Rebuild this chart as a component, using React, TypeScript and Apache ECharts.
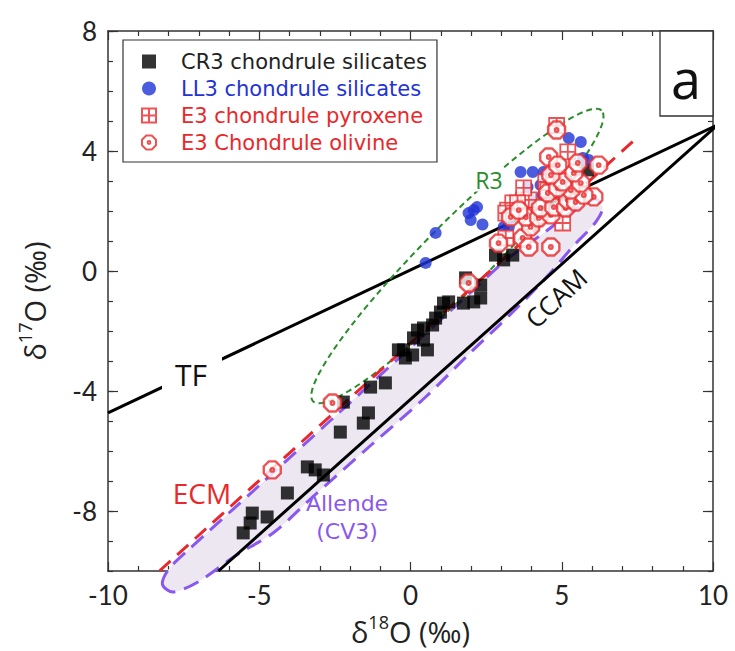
import React, { useEffect, useRef } from "react";
import * as echarts from "echarts";

const FONT = "Lato";
const TEXT_FONT = "Open Sans";
const LEGEND_FONT = "DejaVu Sans";

// Data (δ18O, δ17O) in ‰
const cr3Silicates: [number, number][] = [
  [-5.53, -8.73], [-5.3, -8.4], [-5.23, -8.07], [-4.74, -8.2], [-4.07, -7.4],
  [-3.41, -6.53], [-3.15, -6.63], [-2.88, -6.8], [-2.32, -5.37], [-2.22, -4.37],
  [-1.56, -5.07], [-1.39, -4.73], [-1.32, -3.87], [-0.83, -3.73], [-0.4, -2.63],
  [-0.23, -2.63], [-0.17, -2.9], [0.07, -2.8], [0.1, -2.23], [0.23, -1.97],
  [0.43, -1.9], [0.43, -2.3], [0.56, -2.63], [0.73, -1.8], [0.83, -1.57],
  [0.99, -1.37], [1.09, -1.07], [1.26, -1.03], [1.75, -1.07], [2.09, -1.03],
  [2.32, -0.9], [2.32, -0.47], [1.82, -0.23], [2.81, 0.53], [3.08, 0.37],
  [3.38, 0.53], [5.85, 3.37],
];

const ll3Silicates: [number, number][] = [
  [0.5, 0.27], [0.83, 1.27], [1.92, 1.93], [2.2, 2.13], [1.99, 1.7],
  [2.38, 1.55], [3.08, 1.47], [3.25, 1.47], [3.64, 3.3], [4.04, 3.3],
  [4.4, 3.3], [3.87, 2.8], [4.3, 2.87], [3.91, 2.47], [4.37, 2.53],
  [5.23, 4.43], [5.63, 4.3], [5.7, 3.77], [5.89, 3.7], [2.09, 2.03],
];

const e3Pyroxene: [number, number][] = [
  [4.83, 4.85], [5.2, 3.97], [3.21, 2.03], [3.38, 2.27], [3.74, 2.37],
  [3.91, 2.37], [3.15, 1.1], [5.03, 1.6], [4.7, 2.7], [4.47, 2.97],
  [3.74, 2.77], [3.54, 2.27], [4.54, 2.7], [4.74, 3.1], [3.15, 1.93],
];

const e3Olivine: [number, number][] = [
  [-4.57, -6.63], [-2.58, -4.4], [1.92, -0.4], [2.91, 0.93], [3.71, 1.1],
  [3.91, 0.8], [4.64, 0.8], [3.97, 1.47], [3.81, 1.8], [3.31, 1.8],
  [3.58, 2.03], [4.24, 1.77], [4.64, 1.87], [4.3, 2.1], [4.74, 2.13],
  [5.13, 2.1], [5.2, 2.37], [5.46, 2.3], [6.06, 2.47], [5.73, 2.53],
  [4.54, 2.6], [5.3, 2.7], [4.87, 2.77], [5.63, 2.93], [5.03, 2.97],
  [4.64, 3.2], [5.4, 3.27], [4.57, 3.8], [4.87, 3.53], [5.53, 3.6],
  [6.22, 3.53], [4.83, 4.7],
];

// Reference lines
const tfLine: [number, number][] = [[-10, -4.73], [10.15, 4.87]];
const ccamLine: [number, number][] = [[-6.35, -10], [10.15, 4.87]];
const ecmLine: [number, number][] = [[-8.3, -10], [7.55, 4.5]];

// Allende (CV3) field outline
const allendeOutline: [number, number][] = [
  [-8.2, -10.45], [-7.85, -10.7], [-7.0, -10.35], [-5.8, -9.5], [-4.5, -8.7],
  [-3.2, -7.5], [-1.3, -5.8], [0.5, -4.2], [2.0, -2.7], [3.3, -1.45],
  [4.5, -0.2], [5.4, 0.85], [6.1, 1.6], [6.35, 2.1], [6.1, 2.4],
  [5.3, 1.95], [4.45, 1.3], [3.2, 0.4], [2.0, -0.7], [0.0, -2.55],
  [-2.5, -4.85], [-5.0, -7.15], [-7.4, -9.35], [-8.0, -9.95],
];

// R3 field (ellipse): centre, semi-axes, tilt in degrees
const r3Center: [number, number] = [1.55, 0.5];
const r3Semi: [number, number] = [6.8, 1.1];
const r3Tilt = 45.5;

const yTickValues = [-8, -4, 0, 4, 8];

const RED = "#e8282a";
const BLUE = "#1f33d6";
const GREEN = "#2a8c2a";
const PURPLE = "#8a58ef";

const pyroxeneSymbol = "path://M0,0L20,0L20,20L0,20Z M10,0L10,20 M0,10L20,10";
const olivineSymbol =
  "path://M6,0L14,0L20,6L20,14L14,20L6,20L0,14L0,6Z M10,8A2,2,0,1,1,10,12A2,2,0,1,1,10,8Z";

export default function App() {
  const ref = useRef<HTMLDivElement>(null);
  useEffect(() => {
    document.body.style.margin = "0";
    if (!ref.current) return;
    const chart = echarts.init(ref.current, null, { renderer: "svg" });

    const axisLineStyle = { color: "#333", width: 1.5 };
    const tickStyle = { color: "#333", width: 1.2 };
    const nameRich = {
      a: { fontSize: 29, fontFamily: TEXT_FONT, color: "#222" },
      b: { fontSize: 18, fontFamily: TEXT_FONT, color: "#222", padding: [0, 0, 18, 0] },
    };

    const option: any = {
      animation: false,
      grid: { left: 108, right: 22, top: 31, bottom: 80, containLabel: false, outerBoundsMode: "none" },
      legend: {
        left: 123,
        top: 40,
        orient: "vertical",
        backgroundColor: "#fff",
        borderColor: "#333",
        borderWidth: 1.2,
        padding: [10, 10, 8, 18],
        itemWidth: 14,
        itemHeight: 14,
        itemGap: 4,
        textStyle: { fontFamily: LEGEND_FONT, fontSize: 21, lineHeight: 23, padding: [0, 0, 0, 20] },
        data: [
          { name: "CR3 chondrule silicates", textStyle: { color: "#222" } },
          { name: "LL3 chondrule silicates", textStyle: { color: BLUE } },
          { name: "E3 chondrule pyroxene", textStyle: { color: RED } },
          { name: "E3 Chondrule olivine", textStyle: { color: RED } },
        ],
      },
      xAxis: [
        {
          type: "value",
          min: -10,
          max: 10,
          interval: 5,
          position: "bottom",
          axisLine: { show: true, onZero: false, lineStyle: axisLineStyle },
          axisTick: { show: true, inside: true, length: 9, lineStyle: tickStyle },
          minorTick: { show: true, splitNumber: 5, length: 5, lineStyle: tickStyle },
          axisLabel: { fontSize: 26, fontFamily: FONT, color: "#222", margin: 11 },
          splitLine: { show: false },
          name: "{a|δ}{b|18}{a|O (‰)}",
          nameLocation: "middle",
          nameGap: 42,
          nameTextStyle: { rich: nameRich },
        },
        {
          type: "value",
          min: -10,
          max: 10,
          interval: 5,
          position: "top",
          axisLine: { show: true, onZero: false, lineStyle: axisLineStyle },
          axisTick: { show: true, inside: true, length: 9, lineStyle: tickStyle },
          minorTick: { show: true, splitNumber: 5, length: 5, lineStyle: tickStyle },
          axisLabel: { show: false },
          splitLine: { show: false },
        },
      ],
      yAxis: [
        {
          type: "value",
          min: -10,
          max: 8,
          interval: 1,
          position: "left",
          axisLine: { show: true, onZero: false, lineStyle: axisLineStyle },
          axisTick: { show: true, inside: true, length: 5, lineStyle: tickStyle },
          axisLabel: { show: false },
          splitLine: { show: false },
          name: "{a|δ}{b|17}{a|O (‰)}",
          nameLocation: "middle",
          nameGap: 56,
          nameRotate: 90,
          nameTextStyle: { rich: nameRich },
        },
        {
          type: "value",
          min: -10,
          max: 8,
          position: "left",
          axisLine: { show: false, onZero: false },
          axisTick: { show: true, inside: true, length: 10, customValues: yTickValues, lineStyle: tickStyle },
          axisLabel: { show: true, customValues: yTickValues, fontSize: 26, fontFamily: FONT, color: "#222", margin: 11 },
          splitLine: { show: false },
        },
        {
          type: "value",
          min: -10,
          max: 8,
          interval: 1,
          position: "right",
          axisLine: { show: true, onZero: false, lineStyle: axisLineStyle },
          axisTick: { show: true, inside: true, length: 5, lineStyle: tickStyle },
          axisLabel: { show: false },
          splitLine: { show: false },
        },
        {
          type: "value",
          min: -10,
          max: 8,
          position: "right",
          axisLine: { show: false, onZero: false },
          axisTick: { show: true, inside: true, length: 10, customValues: yTickValues, lineStyle: tickStyle },
          axisLabel: { show: false },
          splitLine: { show: false },
        },
      ],
      series: [
        {
          type: "custom",
          name: "Allende (CV3)",
          coordinateSystem: "cartesian2d",
          clip: false,
          z: 1,
          silent: true,
          data: [[0, 0]],
          renderItem: (_p: any, api: any) => ({
            type: "polygon",
            shape: { points: allendeOutline.map((pt) => api.coord(pt)), smooth: 0.3 },
            style: { fill: "#ece7f1", stroke: PURPLE, lineWidth: 3, lineDash: [16, 9] },
          }),
        },
        {
          type: "line",
          name: "TF",
          data: tfLine,
          symbol: "none",
          clip: false,
          z: 2,
          lineStyle: { color: "#000", width: 3 },
        },
        {
          type: "line",
          name: "CCAM",
          data: ccamLine,
          symbol: "none",
          clip: false,
          z: 2,
          lineStyle: { color: "#000", width: 3 },
        },
        {
          type: "line",
          name: "ECM",
          data: ecmLine,
          symbol: "none",
          clip: false,
          z: 3,
          lineStyle: { color: RED, width: 3, type: [15, 9] },
        },
        {
          type: "custom",
          name: "R3",
          coordinateSystem: "cartesian2d",
          clip: false,
          z: 3,
          silent: true,
          data: [[0, 0]],
          renderItem: (_p: any, api: any) => {
            const t = (r3Tilt * Math.PI) / 180;
            const pts: number[][] = [];
            for (let i = 0; i <= 120; i++) {
              const a = (i / 120) * Math.PI * 2;
              const u = r3Semi[0] * Math.cos(a);
              const v = r3Semi[1] * Math.sin(a);
              pts.push(
                api.coord([
                  r3Center[0] + u * Math.cos(t) - v * Math.sin(t),
                  r3Center[1] + u * Math.sin(t) + v * Math.cos(t),
                ])
              );
            }
            return {
              type: "polygon",
              shape: { points: pts },
              style: { fill: "none", stroke: GREEN, lineWidth: 2, lineDash: [6, 4] },
            };
          },
        },
        {
          type: "scatter",
          name: "CR3 chondrule silicates",
          data: cr3Silicates,
          symbol: "rect",
          symbolSize: 13,
          z: 4,
          itemStyle: { color: "#000" },
        },
        {
          type: "scatter",
          name: "LL3 chondrule silicates",
          data: ll3Silicates,
          symbol: "circle",
          symbolSize: 12,
          z: 5,
          itemStyle: { color: BLUE },
        },
        {
          type: "scatter",
          name: "E3 chondrule pyroxene",
          data: e3Pyroxene,
          symbol: pyroxeneSymbol,
          symbolSize: 15,
          z: 6,
          itemStyle: { color: "#fff", borderColor: RED, borderWidth: 1.8 },
        },
        {
          type: "scatter",
          name: "E3 Chondrule olivine",
          data: e3Olivine,
          symbol: olivineSymbol,
          symbolSize: 17,
          z: 7,
          itemStyle: { color: "#fff", borderColor: RED, borderWidth: 2.4 },
        },
      ],
      graphic: [
        { type: "rect", shape: { x: 660, y: 31, width: 53, height: 85 }, style: { fill: "#fff", stroke: "#333", lineWidth: 1.3 }, z: 20 },
        { type: "text", x: 686, y: 78, style: { text: "a", fontSize: 54, fontFamily: TEXT_FONT, fill: "#111", align: "center", verticalAlign: "middle" }, z: 21 },
        { type: "rect", shape: { x: 162, y: 356, width: 60, height: 36 }, style: { fill: "#fff" }, z: 20 },
        { type: "text", x: 191, y: 374, style: { text: "TF", fontSize: 30, fontFamily: TEXT_FONT, fill: "#111", align: "center", verticalAlign: "middle" }, z: 21 },
        { type: "text", x: 202, y: 493, style: { text: "ECM", fontSize: 28, fontFamily: TEXT_FONT, fill: RED, align: "center", verticalAlign: "middle" }, z: 21 },
        { type: "text", x: 347, y: 503, style: { text: "Allende", fontSize: 22, fontFamily: LEGEND_FONT, fill: PURPLE, align: "center", verticalAlign: "middle" }, z: 21 },
        { type: "text", x: 347, y: 531, style: { text: "(CV3)", fontSize: 22, fontFamily: LEGEND_FONT, fill: PURPLE, align: "center", verticalAlign: "middle" }, z: 21 },
        { type: "text", x: 489, y: 180, style: { text: "R3", fontSize: 23, fontFamily: TEXT_FONT, fill: GREEN, align: "center", verticalAlign: "middle", backgroundColor: "#fff", padding: [0, 2] }, z: 21 },
        { type: "text", x: 556, y: 298, rotation: 0.75, style: { text: "CCAM", fontSize: 26, fontFamily: TEXT_FONT, fill: "#111", align: "center", verticalAlign: "middle" }, z: 21 },
      ],
    };
    chart.setOption(option);
    return () => chart.dispose();
  }, []);
  return <div ref={ref} style={{ width: 735, height: 651 }} />;
}
